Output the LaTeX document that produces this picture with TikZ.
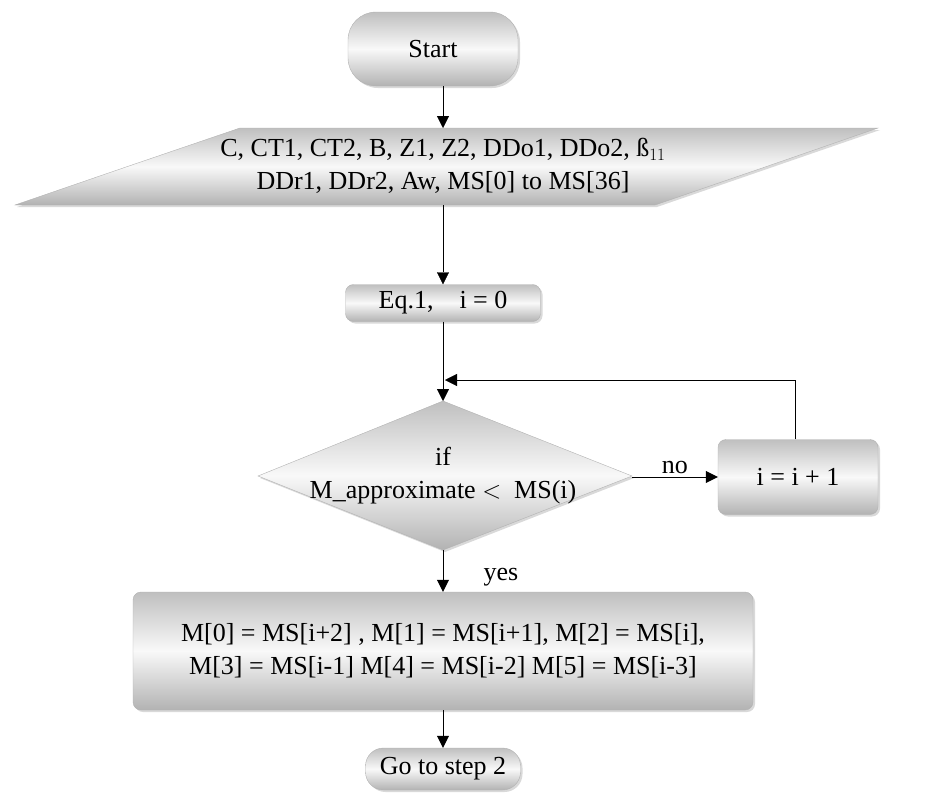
\documentclass[tikz,border=0pt]{standalone}
\usepackage{fontspec}
\setmainfont{Liberation Serif}
\usetikzlibrary{arrows.meta,shapes.geometric,shadows}
\begin{document}
\begin{tikzpicture}[x=1pt,y=-1pt,
  sh/.style={draw=gray!60,top color=gray!50,bottom color=gray!60,middle color=gray!5,drop shadow={opacity=0.3,shadow xshift=2pt,shadow yshift=-2pt}},
  arr/.style={-{Triangle[length=12pt,width=12pt]},black},
  txt/.style={font=\fontsize{26}{33}\selectfont,align=center}]
\useasboundingbox (0,0) rectangle (926,811);
\node[sh,rounded corners=28pt,minimum width=170pt,minimum height=74pt,txt] (start) at (433,49) {Start};
\path[sh] (15,205) -- (240,128) -- (878,128) -- (655,205) -- cycle;
\node[txt] (inp) at (443,166) {C, CT1, CT2, B, Z1, Z2, DDo1, DDo2, ß$_{11}$\\DDr1, DDr2, Aw, MS[0] to MS[36]};
\coordinate (inpT) at (443,128);
\coordinate (inpB) at (443,205);
\node[sh,rounded corners=8pt,minimum width=195pt,minimum height=37pt,txt] (eq) at (443,303) {Eq.1,\quad i = 0};
\path[sh] (258,476) -- (443,401) -- (632,476) -- (443,550) -- cycle;
\node[txt] (dec) at (443,476) {if\\M\_approximate $<$\ \ MS(i)};
\coordinate (decT) at (443,401);
\coordinate (decR) at (632,477);
\coordinate (decB) at (443,550);
\node[sh,rounded corners=8pt,minimum width=160pt,minimum height=75pt,txt] (inc) at (798,477) {i = i + 1};
\node[sh,rounded corners=8pt,minimum width=620pt,minimum height=118pt,txt] (big) at (443,651) {M[0] = MS[i+2] , M[1] = MS[i+1], M[2] = MS[i],\\M[3] = MS[i-1] M[4] = MS[i-2] M[5] = MS[i-3]};
\node[sh,rounded corners=18pt,minimum width=155pt,minimum height=42pt,txt] (go) at (443,769) {Go to step 2};
\coordinate (loopTop) at (795,380);
\coordinate (loopEnd) at (445,380);
\draw[arr] (start.south -| inpT) -- (inpT);
\draw[arr] (inpB) -- (eq.north);
\draw[arr] (eq.south) -- (decT);
\draw[arr] (decR) -- node[above,txt,pos=0.5]{no} (inc.west);
\draw[arr] (inc.north -| loopTop) -- (loopTop) -- (loopEnd);
\draw[arr] (decB) -- (big.north);
\node[txt] at (501,577) {yes};
\draw[arr] (big.south) -- (go.north);
\end{tikzpicture}
\end{document}
